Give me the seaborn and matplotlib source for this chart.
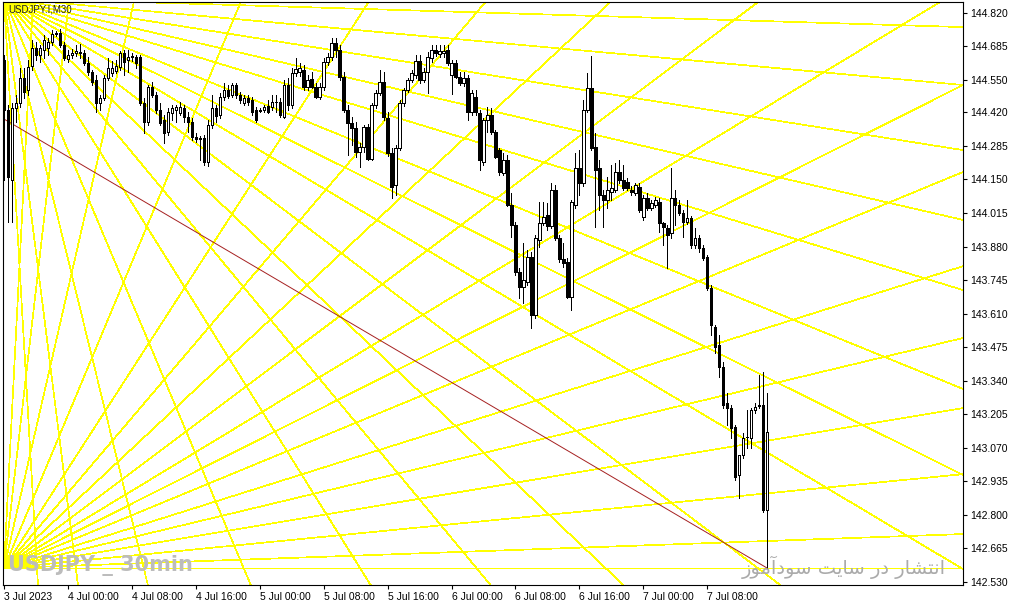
import matplotlib
matplotlib.use("Agg")
import matplotlib.pyplot as plt
from matplotlib import font_manager
import numpy as np
import pandas as pd
import seaborn as sns

# USDJPY M30 candles, 3 Jul 2023 16:00 -> 7 Jul 2023 15:30
opens = [144.631, 144.429, 144.148, 144.437, 144.458, 144.558, 144.510, 144.606, 144.679, 144.651,
         144.671, 144.679, 144.703, 144.735, 144.739, 144.691, 144.635, 144.651, 144.659, 144.663,
         144.659, 144.618, 144.582, 144.550, 144.458, 144.478, 144.558, 144.578, 144.586, 144.602,
         144.659, 144.631, 144.643, 144.643, 144.643, 144.458, 144.381, 144.522, 144.490, 144.429,
         144.389, 144.341, 144.417, 144.429, 144.417, 144.437, 144.401, 144.381, 144.321, 144.313,
         144.317, 144.220, 144.369, 144.437, 144.409, 144.482, 144.510, 144.490, 144.530, 144.490,
         144.458, 144.478, 144.470, 144.429, 144.429, 144.429, 144.445, 144.441, 144.462, 144.462,
         144.401, 144.530, 144.449, 144.578, 144.582, 144.590, 144.522, 144.554, 144.522, 144.482,
         144.522, 144.622, 144.643, 144.699, 144.671, 144.562, 144.429, 144.377, 144.357, 144.260,
         144.280, 144.361, 144.232, 144.449, 144.498, 144.542, 144.397, 144.256, 144.128, 144.276,
         144.458, 144.510, 144.550, 144.570, 144.627, 144.550, 144.582, 144.639, 144.671, 144.655,
         144.659, 144.671, 144.570, 144.618, 144.562, 144.538, 144.558, 144.421, 144.482, 144.417,
         144.220, 144.389, 144.409, 144.341, 144.268, 144.176, 144.228, 144.047, 143.967, 143.777,
         143.717, 143.737, 143.838, 143.604, 143.906, 143.975, 144.007, 143.963, 144.107, 143.914,
         143.830, 143.818, 143.677, 144.047, 144.196, 144.136, 144.429, 144.518, 144.280, 144.196,
         144.087, 144.067, 144.099, 144.107, 144.180, 144.148, 144.140, 144.107, 144.095, 144.119,
         143.999, 144.075, 144.035, 144.047, 144.059, 143.975, 143.955, 143.934, 144.075, 144.047,
         144.015, 143.979, 143.995, 143.886, 143.914, 143.874, 143.838, 143.713, 143.556, 143.484,
         143.395, 143.250, 143.230, 143.154, 142.961, 143.041, 143.114, 143.110, 143.222, 143.242,
         143.242, 142.820]
highs = [144.651, 144.449, 144.458, 144.490, 144.598, 144.598, 144.631, 144.711, 144.703, 144.691,
         144.731, 144.719, 144.751, 144.747, 144.755, 144.703, 144.671, 144.675, 144.691, 144.695,
         144.671, 144.643, 144.590, 144.570, 144.490, 144.570, 144.639, 144.627, 144.631, 144.667,
         144.671, 144.671, 144.659, 144.651, 144.651, 144.478, 144.530, 144.542, 144.502, 144.458,
         144.409, 144.437, 144.449, 144.449, 144.462, 144.449, 144.421, 144.397, 144.337, 144.325,
         144.329, 144.389, 144.490, 144.449, 144.498, 144.538, 144.530, 144.538, 144.538, 144.502,
         144.490, 144.490, 144.482, 144.441, 144.437, 144.449, 144.470, 144.490, 144.490, 144.478,
         144.550, 144.558, 144.598, 144.639, 144.618, 144.610, 144.570, 144.582, 144.538, 144.538,
         144.639, 144.659, 144.719, 144.719, 144.691, 144.582, 144.449, 144.401, 144.381, 144.297,
         144.369, 144.373, 144.458, 144.510, 144.590, 144.582, 144.421, 144.276, 144.289, 144.470,
         144.518, 144.558, 144.590, 144.651, 144.651, 144.598, 144.663, 144.691, 144.691, 144.691,
         144.691, 144.691, 144.631, 144.631, 144.582, 144.582, 144.570, 144.510, 144.510, 144.429,
         144.397, 144.441, 144.437, 144.349, 144.276, 144.256, 144.248, 144.095, 143.979, 143.794,
         143.894, 143.866, 143.858, 143.926, 144.059, 144.059, 144.055, 144.136, 144.128, 143.926,
         143.894, 143.834, 144.067, 144.256, 144.268, 144.470, 144.578, 144.647, 144.337, 144.228,
         144.107, 144.160, 144.208, 144.216, 144.228, 144.208, 144.156, 144.124, 144.136, 144.136,
         144.087, 144.095, 144.067, 144.079, 144.075, 143.979, 143.967, 144.196, 144.107, 144.067,
         144.027, 144.067, 144.003, 143.955, 143.926, 143.886, 143.846, 143.725, 143.564, 143.524,
         143.415, 143.291, 143.242, 143.162, 143.041, 143.130, 143.222, 143.230, 143.250, 143.363,
         143.375, 143.291]
lows = [144.148, 143.979, 143.979, 144.381, 144.441, 144.478, 144.490, 144.590, 144.631, 144.622,
        144.639, 144.651, 144.691, 144.727, 144.683, 144.631, 144.622, 144.639, 144.647, 144.639,
        144.610, 144.570, 144.530, 144.421, 144.429, 144.470, 144.550, 144.566, 144.578, 144.590,
        144.570, 144.582, 144.627, 144.598, 144.449, 144.337, 144.369, 144.482, 144.417, 144.369,
        144.297, 144.329, 144.389, 144.381, 144.409, 144.381, 144.341, 144.309, 144.301, 144.228,
        144.208, 144.204, 144.357, 144.381, 144.397, 144.470, 144.478, 144.482, 144.478, 144.458,
        144.449, 144.449, 144.409, 144.381, 144.421, 144.421, 144.417, 144.429, 144.421, 144.401,
        144.397, 144.429, 144.437, 144.566, 144.566, 144.510, 144.510, 144.518, 144.478, 144.474,
        144.510, 144.610, 144.631, 144.643, 144.550, 144.421, 144.248, 144.289, 144.240, 144.200,
        144.260, 144.228, 144.228, 144.437, 144.490, 144.389, 144.244, 144.075, 144.087, 144.268,
        144.445, 144.502, 144.542, 144.558, 144.538, 144.542, 144.498, 144.622, 144.647, 144.643,
        144.643, 144.610, 144.494, 144.558, 144.530, 144.526, 144.389, 144.409, 144.409, 144.188,
        144.208, 144.341, 144.333, 144.236, 144.168, 144.168, 144.043, 143.918, 143.765, 143.673,
        143.653, 143.725, 143.552, 143.592, 143.878, 143.967, 143.947, 143.955, 143.906, 143.818,
        143.798, 143.673, 143.625, 144.035, 144.087, 144.124, 144.421, 144.268, 143.959, 144.027,
        143.959, 144.035, 144.067, 144.099, 144.136, 144.107, 144.107, 144.087, 144.087, 144.019,
        143.987, 144.027, 144.027, 144.039, 143.938, 143.886, 143.794, 143.914, 143.967, 144.007,
        143.918, 143.971, 143.874, 143.874, 143.858, 143.826, 143.705, 143.524, 143.452, 143.355,
        143.230, 143.162, 143.110, 142.940, 142.868, 143.029, 143.069, 143.069, 143.210, 143.230,
        142.812, 142.586]
closes = [144.429, 144.160, 144.437, 144.458, 144.558, 144.502, 144.602, 144.679, 144.651, 144.679,
          144.711, 144.703, 144.735, 144.739, 144.691, 144.639, 144.651, 144.659, 144.667, 144.659,
          144.618, 144.582, 144.542, 144.458, 144.478, 144.558, 144.598, 144.598, 144.606, 144.659,
          144.622, 144.643, 144.645, 144.618, 144.458, 144.381, 144.522, 144.490, 144.429, 144.377,
          144.337, 144.421, 144.437, 144.441, 144.441, 144.401, 144.381, 144.321, 144.313, 144.317,
          144.220, 144.369, 144.437, 144.405, 144.482, 144.510, 144.486, 144.530, 144.490, 144.470,
          144.478, 144.462, 144.421, 144.389, 144.427, 144.441, 144.421, 144.462, 144.460, 144.409,
          144.530, 144.449, 144.578, 144.594, 144.598, 144.522, 144.550, 144.522, 144.482, 144.522,
          144.622, 144.643, 144.699, 144.671, 144.562, 144.429, 144.377, 144.357, 144.260, 144.280,
          144.361, 144.232, 144.449, 144.498, 144.542, 144.401, 144.256, 144.119, 144.276, 144.458,
          144.510, 144.550, 144.578, 144.627, 144.550, 144.582, 144.643, 144.671, 144.659, 144.667,
          144.667, 144.618, 144.618, 144.562, 144.538, 144.558, 144.421, 144.498, 144.421, 144.228,
          144.389, 144.409, 144.341, 144.240, 144.180, 144.228, 144.047, 143.967, 143.777, 143.717,
          143.745, 143.838, 143.604, 143.914, 143.975, 143.999, 143.963, 144.107, 143.914, 143.830,
          143.814, 143.677, 144.059, 144.196, 144.136, 144.429, 144.518, 144.276, 144.188, 144.087,
          144.067, 144.107, 144.115, 144.180, 144.148, 144.115, 144.115, 144.099, 144.128, 144.027,
          144.075, 144.035, 144.055, 144.067, 143.975, 143.959, 143.926, 144.075, 144.047, 144.015,
          143.979, 143.995, 143.886, 143.914, 143.874, 143.834, 143.713, 143.564, 143.476, 143.395,
          143.242, 143.230, 143.150, 142.953, 143.041, 143.110, 143.112, 143.222, 143.234, 143.240,
          142.820, 143.134]

time_labels = ["3 Jul 2023", "4 Jul 00:00", "4 Jul 08:00", "4 Jul 16:00", "5 Jul 00:00", "5 Jul 08:00",
               "5 Jul 16:00", "6 Jul 00:00", "6 Jul 08:00", "6 Jul 16:00", "7 Jul 00:00", "7 Jul 08:00"]
label_bars = [0, 16, 32, 48, 64, 80, 96, 112, 128, 144, 160, 176]
price_labels = ["144.820", "144.685", "144.550", "144.420", "144.285", "144.150", "144.015", "143.880",
                "143.745", "143.610", "143.475", "143.340", "143.205", "143.070", "142.935", "142.800",
                "142.665", "142.530"]

# gann fan hanging from the top-left, one far point per ray
fan_top_origin = (0, 144.880)
fan_top_bars = [240, 240, 240, 240, 240, 240, 240, 240, 194.25, 155, 121.75, 91.75, 61.75, 36, 18.5, 8.5]
fan_top_prices = [144.763, 144.530, 144.268, 143.987, 143.705, 143.307, 142.961, 142.582,
                  142.518, 142.518, 142.518, 142.518, 142.518, 142.518, 142.518, 142.518]
# gann fan rising from the bottom-left
fan_bot_origin = (0, 142.586)
fan_bot_bars = [240, 240, 240, 240, 240, 240, 240, 240, 234.25, 188.75, 151.75, 120.5, 91.25, 59.25, 32.5, 16.25, 7.25]
fan_bot_prices = [142.586, 142.723, 142.964, 143.230, 143.512, 143.801, 144.180, 144.530,
                  144.864, 144.864, 144.864, 144.864, 144.864, 144.864, 144.864, 144.864, 144.864]
# dark red trend line
trend_bars = [0, 191]
trend_prices = [144.393, 142.586]

watermark = "USDJPY _ 30min"
site_text = "انتشار در سایت سودآموز"


def shape_persian(text):
    # matplotlib has no arabic shaping, pick presentation forms by hand
    forms = {
        'ا': ('\uFE8D', '\uFE8E', None, None), 'آ': ('\uFE81', '\uFE82', None, None),
        'ن': ('\uFEE5', '\uFEE6', '\uFEE7', '\uFEE8'), 'ت': ('\uFE95', '\uFE96', '\uFE97', '\uFE98'),
        'ش': ('\uFEB5', '\uFEB6', '\uFEB7', '\uFEB8'), 'ر': ('\uFEAD', '\uFEAE', None, None),
        'د': ('\uFEA9', '\uFEAA', None, None), 'س': ('\uFEB1', '\uFEB2', '\uFEB3', '\uFEB4'),
        'ی': ('\uFBFC', '\uFBFD', '\uFBFE', '\uFBFF'), 'و': ('\uFEED', '\uFEEE', None, None),
        'م': ('\uFEE1', '\uFEE2', '\uFEE3', '\uFEE4'), 'ز': ('\uFEAF', '\uFEB0', None, None),
    }
    out = []
    for i, ch in enumerate(text):
        if ch not in forms:
            out.append(ch)
            continue
        prev = text[i - 1] if i > 0 else ''
        nxt = text[i + 1] if i + 1 < len(text) else ''
        j_prev = prev in forms and forms[prev][2] is not None
        j_next = forms[ch][2] is not None and nxt in forms
        iso, fin, ini, med = forms[ch]
        if j_prev and j_next:
            out.append(med)
        elif j_prev:
            out.append(fin)
        elif j_next:
            out.append(ini)
        else:
            out.append(iso)
    return ''.join(out)[::-1]


sns.set_style("white")
names = {f.name for f in font_manager.fontManager.ttflist}
plt.rcParams['font.family'] = ['Liberation Sans', 'DejaVu Sans']

W, H = 1009, 606
fig = plt.figure(figsize=(W / 100, H / 100), dpi=100)
ax = fig.add_axes([3 / W, 1 - 585 / H, 960 / W, 583 / H])

df = pd.DataFrame({'o': opens, 'h': highs, 'l': lows, 'c': closes})
df['bar'] = np.arange(len(df))
up = df['c'] >= df['o']

# fans, thin aliased lines like the terminal draws them
o_b, o_p = fan_top_origin
for b, p in zip(fan_top_bars, fan_top_prices):
    ax.plot([o_b, o_b + 3 * (b - o_b)], [o_p, o_p + 3 * (p - o_p)], color='#ffff00', lw=0.5,
            antialiased=False, zorder=2)
o_b, o_p = fan_bot_origin
for b, p in zip(fan_bot_bars, fan_bot_prices):
    ax.plot([o_b, o_b + 3 * (b - o_b)], [o_p, o_p + 3 * (p - o_p)], color='#ffff00', lw=0.5,
            antialiased=False, zorder=2)
sns.lineplot(x=trend_bars, y=trend_prices, color='#a52020', lw=0.7, ax=ax, zorder=2.5)

# candles
ax.vlines(df['bar'], df['l'], df['h'], color='black', lw=0.7, antialiased=False, zorder=3)
body = np.maximum((df['c'] - df['o']).abs(), 0.003)
ax.bar(df['bar'][up], body[up], bottom=df['o'][up], width=0.6, color='white',
       edgecolor='black', lw=0.7, antialiased=False, zorder=4)
ax.bar(df['bar'][~up], body[~up], bottom=df['c'][~up], width=0.6, color='black',
       edgecolor='black', lw=0.7, antialiased=False, zorder=4)

ax.set_xlim(-0.25, 240)
ax.set_ylim(142.518, 144.864)
ax.set_xlabel('')
ax.set_ylabel('')

ax.yaxis.tick_right()
ax.set_yticks([float(s) for s in price_labels])
ax.set_yticklabels(price_labels)
ax.set_xticks(label_bars)
ax.set_xticklabels(time_labels)
for lab in ax.get_xticklabels():
    lab.set_horizontalalignment('left')
ax.tick_params(axis='both', length=3, width=0.8, color='black', labelsize=7.5, pad=2,
               labelcolor='black', direction='out')
ax.tick_params(axis='x', bottom=True)
ax.tick_params(axis='y', right=True, left=False)
for sp in ax.spines.values():
    sp.set_color('black')
    sp.set_linewidth(0.8)

fig.text(8 / W, 1 - 9 / H, "USDJPY.I,M30", fontsize=7, color='#202020', va='center', ha='left')
wm_font = 'Liberation Sans Narrow' if 'Liberation Sans Narrow' in names else 'DejaVu Sans'
fig.text(8 / W, 1 - 566 / H, watermark, fontsize=15, fontweight='bold', color='#bcbcbc',
         family=wm_font, va='center', ha='left', zorder=1)
fig.text(946 / W, 1 - 567 / H, shape_persian(site_text), fontsize=14, color='#ababab',
         family=['DejaVu Sans'], va='center', ha='right', zorder=1)

fig.savefig('out.png', dpi=100)
